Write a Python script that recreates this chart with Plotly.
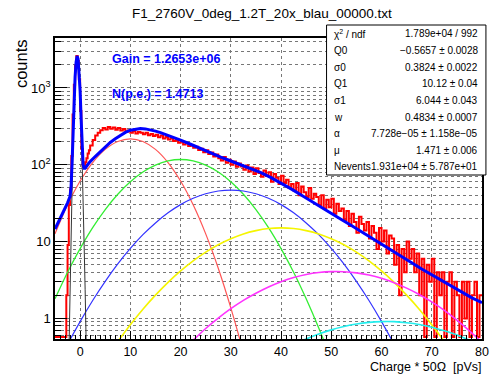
import numpy as np
import plotly.graph_objects as go

# ---------------- data ----------------
# histogram: fine bins (0.25 wide) from -5 to 2, coarse bins (0.5 wide) from 2 to 80
fine_start, fine_stop, fine_w = -5.0, 2.0, 0.25
coarse_stop, coarse_w = 80.0, 0.5
counts_fine = [0, 0, 0, 0, 0, 0, 0, 0, 0, 2, 9, 30, 48, 130, 450, 1100, 1950, 2600,
               2250, 1300, 500, 160, 95, 92, 108, 122, 140, 155]
counts_coarse = [
    178, 210, 240, 262, 282, 300, 288, 310, 295, 305, 285, 300, 280, 292, 270, 280, 262, 275, 255, 268,
    262, 250, 262, 242, 252, 236, 246, 228, 240, 220, 230, 214, 222, 204, 210, 194, 200, 184, 192, 176,
    180, 166, 172, 156, 162, 146, 154, 138, 144, 128, 136, 122, 114, 126, 106, 116, 100, 110, 94, 104,
    95, 86, 98, 82, 92, 76, 90, 78, 70, 84, 72, 80, 60, 76, 68, 56, 72, 58, 64, 50,
    56, 46, 58, 40, 52, 44, 38, 50, 36, 42, 38, 30, 40, 27, 35, 28, 36, 23, 31, 25,
    27, 19, 25, 16, 23, 18, 13, 21, 17, 14, 18, 11, 16, 13, 8, 15, 10, 14, 7, 12,
    11, 5, 9, 2, 8, 4, 10, 6, 8, 4, 7, 2, 6, 0, 5, 3, 6, 0, 4, 2,
    4, 0, 3, 4, 0, 3, 2, 0, 3, 1, 3, 0, 2, 3, 0, 2]

# total fit function (blue)
fit_x = [-5, -4.5, -4, -3.5, -3, -2.5, -2.0, -1.8, -1.6, -1.4, -1.2, -1.0, -0.8, -0.6, -0.4, -0.2,
         0.0, 0.2, 0.4, 0.6, 0.8, 1.0, 1.5, 2, 3, 4, 5, 6, 7, 8, 9, 10, 11, 12, 13, 14, 15, 16, 17,
         18, 19, 20, 22, 24, 26, 28, 30, 32, 34, 36, 38, 40, 42, 44, 46, 48, 50, 52, 54, 56, 58,
         60, 62, 64, 66, 68, 70, 72, 74, 76, 78, 80]
fit_y = [14.6, 17.0, 19.5, 23, 27, 32, 39, 52, 105, 280, 690, 1390, 2160, 2600, 2380, 1670,
         910, 400, 160, 100, 90, 90, 100, 110, 128, 148, 170, 195, 218, 242, 264, 282, 292, 296,
         293, 285, 274, 262, 249, 236, 222, 209, 185, 162, 142, 126, 112, 100, 89, 79, 68, 58,
         48.5, 40.5, 33.5, 27.8, 23.2, 19.4, 16.2, 13.5, 11.2, 9.3, 7.7, 6.4, 5.3, 4.4, 3.7, 3.1,
         2.6, 2.2, 1.85, 1.6]

# pedestal component (black)
ped_x = [-2.2, -2.0, -1.8, -1.6, -1.4, -1.2, -1.0, -0.8, -0.6, -0.4, -0.2, 0.0, 0.2, 0.4, 0.6,
         0.8, 1.0, 1.2, 1.4]
ped_y = [0.45, 3.0, 18, 66, 236, 643, 1338, 2113, 2540, 2321, 1614, 854, 345, 110, 40, 9, 2.4,
         0.6, 0.1]

# n photo-electron components
comp_x = [-5, -2.5, 0, 2.5, 5, 7.5, 10, 12.5, 15, 17.5, 20, 22.5, 25, 27.5, 30, 32.5, 35, 37.5,
          40, 42.5, 45, 47.5, 50, 52.5, 55, 57.5, 60, 62.5, 65, 67.5, 70, 72.5, 75, 77.5, 80]
pe1_y = [12.6, 30.1, 61.4, 106.9, 158.7, 201.2, 217.8, 201.2, 158.7, 106.9, 61.4, 30.1, 12.6,
         4.5, 1.37, 0.36, 0.08, None, None, None, None, None, None, None, None, None, None, None,
         None, None, None, None, None, None, None]
pe2_y = [1.80, 3.99, 8.11, 15.2, 26.1, 41.3, 60.1, 80.5, 99.2, 112.4, 117.2, 112.4, 99.2, 80.5,
         60.1, 41.3, 26.1, 15.2, 8.11, 3.99, 1.80, 0.75, 0.29, 0.10, None, None, None, None, None,
         None, None, None, None, None, None]
pe3_y = [0.22, 0.46, 0.91, 1.71, 3.04, 5.12, 8.15, 12.3, 17.5, 23.7, 30.3, 36.6, 42.0, 45.6,
         46.9, 45.6, 42.0, 36.6, 30.3, 23.7, 17.5, 12.3, 8.15, 5.12, 3.04, 1.71, 0.91, 0.46, 0.22,
         0.10, None, None, None, None, None]
pe4_y = [None, None, None, None, 0.29, 0.50, 0.83, 1.32, 2.01, 2.95, 4.16, 5.63, 7.31, 9.12, 10.9,
         12.6, 13.9, 14.8, 15.1, 14.8, 13.9, 12.6, 10.9, 9.12, 7.31, 5.63, 4.16, 2.95, 2.01, 1.32,
         0.83, 0.50, 0.29, None, None]
pe5_y = [None, None, None, None, None, None, None, None, None, None, 0.36, 0.52, 0.74, 1.01, 1.34,
         1.72, 2.13, 2.57, 3.01, 3.40, 3.73, 3.96, 4.07, 4.06, 3.92, 3.67, 3.33, 2.92, 2.48, 2.05,
         1.64, 1.27, 0.95, 0.69, 0.49]
pe6_y = [None, None, None, None, None, None, None, None, None, None, None, None, None, None, None,
         None, None, None, 0.30, 0.45, 0.54, 0.625, 0.71, 0.785, 0.847, 0.889, 0.91, 0.908, 0.88,
         0.836, 0.77, 0.69, 0.61, 0.52, 0.43]

# texts
title_text = "F1_2760V_0deg_1.2T_20x_blau_00000.txt"
gain_text = "Gain = 1.2653e+06"
npe_text = "N(p.e.) = 1.4713"
stat_names = ["χ<sup>2</sup> / ndf", "Q0", "σ0", "Q1", "σ1", "w", "α", "μ", "Nevents"]
stat_values = ["1.789e+04 / 992", "−0.5657 ± 0.0028", "0.3824 ± 0.0022", "10.12 ± 0.04",
               "6.044 ± 0.043", "0.4834 ± 0.0007", "7.728e−05 ± 1.158e−05", "1.471 ± 0.006",
               "1.931e+04 ± 5.787e+01"]
x_tick_step = 10
y_tickvals = [1, 10, 100, 1000]
y_ticktext = ["1", "10", "10<sup>2</sup>", "10<sup>3</sup>"]

# ---------------- figure ----------------
W, H = 496, 378
L, R, T, B = 55, 7, 38, 39
YMIN, YMAX = 0.54, 10 ** 3.65
FONT = "Liberation Sans, Arial, Helvetica, sans-serif"

def px(xp):
    return (xp - L) / (W - L - R)

def py(yp):
    return (H - B - yp) / (H - T - B)

edges = np.concatenate([np.arange(fine_start, fine_stop, fine_w),
                        np.arange(fine_stop, coarse_stop + 1e-9, coarse_w)])
counts = np.array(counts_fine + counts_coarse, dtype=float)
floor = 0.575
hist_y = np.where(counts > 0, counts, floor)
step_x = list(edges[:-1]) + [edges[-1]]
step_y = list(hist_y) + [hist_y[-1]]

fig = go.Figure()
fig.add_trace(go.Scatter(x=step_x, y=step_y, mode="lines", line=dict(color="#ff0000", width=2, shape="hv"),
                         hoverinfo="skip"))
comp_styles = [(pe1_y, "#ff5555", 1.2), (pe2_y, "#33ee33", 1.3), (pe3_y, "#3333ff", 1.2),
               (pe4_y, "#f5f500", 1.6), (pe5_y, "#ff33ff", 1.6), (pe6_y, "#22eeee", 1.6)]
for ys, col, w in comp_styles:
    fig.add_trace(go.Scatter(x=comp_x, y=ys, mode="lines", connectgaps=False,
                             line=dict(color=col, width=w, shape="spline", smoothing=0.8), hoverinfo="skip"))
fig.add_trace(go.Scatter(x=ped_x, y=ped_y, mode="lines", line=dict(color="#333333", width=1), hoverinfo="skip"))
fig.add_trace(go.Scatter(x=fit_x, y=fit_y, mode="lines", line=dict(color="#0000ff", width=3), hoverinfo="skip"))

y_minor = [m * 10 ** e for e in range(-1, 4) for m in range(2, 10) if YMIN < m * 10 ** e < YMAX]
fig.update_layout(
    width=W, height=H, margin=dict(l=L, r=R, t=T, b=B),
    paper_bgcolor="white", plot_bgcolor="white", showlegend=False,
    xaxis=dict(range=[-5, 80], tick0=0, dtick=x_tick_step, ticks="inside", ticklen=8, tickcolor="black",
               showline=True, linecolor="black", linewidth=1.5, mirror=True, zeroline=False,
               showgrid=True, gridcolor="#777777", griddash="dot", gridwidth=1,
               tickfont=dict(family=FONT, size=12.5, color="black"),
               minor=dict(dtick=1, ticks="inside", ticklen=4, tickcolor="black", showgrid=False)),
    yaxis=dict(type="log", range=[np.log10(YMIN), np.log10(YMAX)], tickmode="array",
               tickvals=y_tickvals, ticktext=y_ticktext, ticks="inside", ticklen=12, tickcolor="black",
               showline=True, linecolor="black", linewidth=1.5, mirror=True, zeroline=False,
               showgrid=True, gridcolor="#777777", griddash="dot", gridwidth=1,
               tickfont=dict(family=FONT, size=13, color="black"),
               minor=dict(tickmode="array", tickvals=y_minor, ticks="inside", ticklen=6, tickcolor="black",
                          showgrid=True, gridcolor="#777777", griddash="dot", gridwidth=1)),
)

# stats box
fig.add_shape(type="rect", xref="paper", yref="paper", x0=px(331), x1=px(493), y0=py(175), y1=py(25),
              line=dict(color="black", width=1), fillcolor="white", layer="above")
ann = []

def note(x, y, text, xanchor, size, color="black", yanchor="middle", angle=0):
    ann.append(dict(x=px(x), y=py(y), xref="paper", yref="paper", text=text, xanchor=xanchor,
                    yanchor=yanchor, showarrow=False, textangle=angle,
                    font=dict(family=FONT, size=size, color=color)))

for i, (n, v) in enumerate(zip(stat_names, stat_values)):
    yy = 34 + 16.6 * i
    note(337, yy, n, "left", 10)
    note(487, yy, v, "right", 10)
note(265, 14, title_text, "center", 13.5)
note(111, 59, "<b>" + gain_text + "</b>", "left", 12.5, color="#0000ff")
note(111, 94, "<b>" + npe_text + "</b>", "left", 12.5, color="#0000ff")
note(20, 37, "counts", "center", 16.5, yanchor="top", angle=-90)
note(491, 367, "Charge * 50Ω  [pVs]", "right", 12.5)
fig.update_layout(annotations=ann)

fig.write_html("out.html")
